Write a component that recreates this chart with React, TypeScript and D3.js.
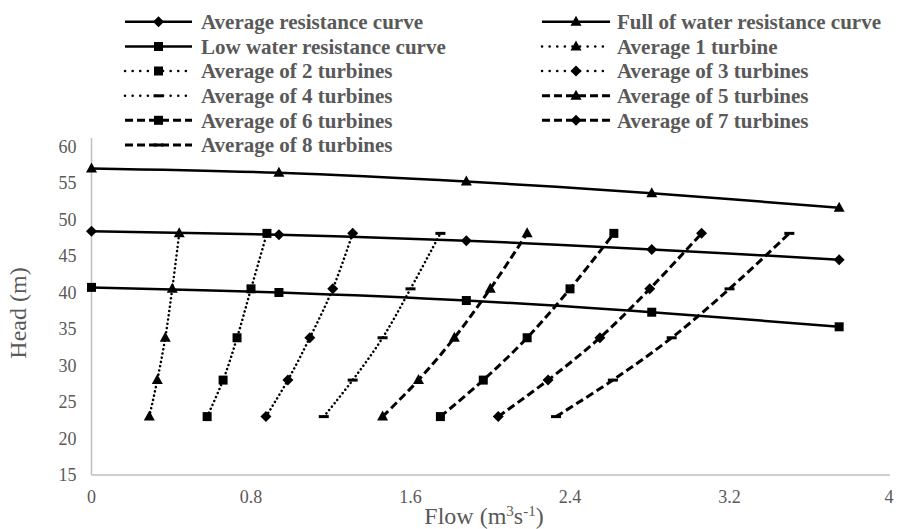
import * as d3 from "d3";

const width = 897;
const height = 529;

// flow values (m3/s) for the three resistance curves
const resistanceFlow = [0, 0.94, 1.88, 2.81, 3.75];
const avgResistance = [48.4, 47.9, 47.1, 45.9, 44.5];
const fullResistance = [57, 56.4, 55.2, 53.6, 51.6];
const lowResistance = [40.7, 40.0, 38.9, 37.3, 35.3];

// head values shared by the turbine curves
const turbineHeads = [23, 28, 33.8, 40.5, 48.1];
const turbine1 = [0.29, 0.33, 0.37, 0.405, 0.44];
const turbine2 = [0.58, 0.66, 0.73, 0.8, 0.88];
const turbine3 = [0.875, 0.985, 1.095, 1.21, 1.31];
const turbine4 = [1.165, 1.31, 1.46, 1.6, 1.75];
const turbine5 = [1.46, 1.64, 1.82, 2.0, 2.185];
const turbine6 = [1.75, 1.965, 2.185, 2.4, 2.62];
const turbine7 = [2.04, 2.29, 2.55, 2.8, 3.06];
const turbine8 = [2.33, 2.615, 2.91, 3.2, 3.5];

const xTicks = [0, 0.8, 1.6, 2.4, 3.2, 4];
const yTicks = [15, 20, 25, 30, 35, 40, 45, 50, 55, 60];

type Marker = "diamond" | "triangle" | "square" | "dash";
type Style = "solid" | "dot" | "dash";

const series: { name: string; xs: number[]; ys: number[]; marker: Marker; style: Style }[] = [
  { name: "Average resistance curve", xs: resistanceFlow, ys: avgResistance, marker: "diamond", style: "solid" },
  { name: "Full of water resistance curve", xs: resistanceFlow, ys: fullResistance, marker: "triangle", style: "solid" },
  { name: "Low water resistance curve", xs: resistanceFlow, ys: lowResistance, marker: "square", style: "solid" },
  { name: "Average 1 turbine", xs: turbine1, ys: turbineHeads, marker: "triangle", style: "dot" },
  { name: "Average of 2 turbines", xs: turbine2, ys: turbineHeads, marker: "square", style: "dot" },
  { name: "Average of 3 turbines", xs: turbine3, ys: turbineHeads, marker: "diamond", style: "dot" },
  { name: "Average of 4 turbines", xs: turbine4, ys: turbineHeads, marker: "dash", style: "dot" },
  { name: "Average of 5 turbines", xs: turbine5, ys: turbineHeads, marker: "triangle", style: "dash" },
  { name: "Average of 6 turbines", xs: turbine6, ys: turbineHeads, marker: "square", style: "dash" },
  { name: "Average of 7 turbines", xs: turbine7, ys: turbineHeads, marker: "diamond", style: "dash" },
  { name: "Average of 8 turbines", xs: turbine8, ys: turbineHeads, marker: "dash", style: "dash" },
];

const plotLeft = 91.5;
const plotRight = 889;
const plotBottom = 475;
const plotTop = 146.5;

const font = "Liberation Serif";
const gray = "#595959";

const strokeProps = (style: Style) => {
  if (style === "dot") return { strokeWidth: 2.5, strokeDasharray: "0.1 4.2", strokeLinecap: "round" as const };
  if (style === "dash") return { strokeWidth: 3, strokeDasharray: "8 4", strokeLinecap: "butt" as const };
  return { strokeWidth: 2.5, strokeDasharray: undefined, strokeLinecap: "butt" as const };
};

const MarkerShape = ({ type, x, y }: { type: Marker; x: number; y: number }) => {
  if (type === "diamond")
    return <path d={`M${x},${y - 5.5}L${x + 5.5},${y}L${x},${y + 5.5}L${x - 5.5},${y}Z`} fill="#000" />;
  if (type === "triangle")
    return <path d={`M${x},${y - 6}L${x + 5.5},${y + 4}L${x - 5.5},${y + 4}Z`} fill="#000" />;
  if (type === "square") return <rect x={x - 4.5} y={y - 4.5} width={9} height={9} fill="#000" />;
  return <rect x={x - 5} y={y - 1.5} width={10} height={3} fill="#000" />;
};

const App = () => {
  const xScale = d3.scaleLinear().domain([0, 4]).range([plotLeft, plotRight]);
  const yScale = d3.scaleLinear().domain([15, 60]).range([plotBottom, plotTop]);

  const line = d3
    .line<[number, number]>()
    .x((d) => xScale(d[0]))
    .y((d) => yScale(d[1]))
    .curve(d3.curveCatmullRom.alpha(0.5));

  // legend: two columns, rows interleaved
  const legendRows = [21.7, 46.5, 71, 95.8, 120.3, 145];
  const legendCols = [
    { lineX0: 125, lineX1: 192, textX: 201 },
    { lineX0: 542, lineX1: 610, textX: 617 },
  ];

  return (
    <div style={{ position: "absolute", left: 0, top: 0 }}>
      <svg width={width} height={height} viewBox={`0 0 ${width} ${height}`} style={{ display: "block", background: "#fff" }}>
        {/* axes */}
        <line x1={plotLeft} x2={plotLeft} y1={138} y2={plotBottom} stroke="#bfbfbf" strokeWidth={1.5} />
        <line x1={plotLeft} x2={plotRight + 1} y1={plotBottom} y2={plotBottom} stroke="#bfbfbf" strokeWidth={1.5} />
        <g fontFamily={font} fontSize={18} fill={gray}>
          {xTicks.map((t) => (
            <text key={t} x={xScale(t)} y={plotBottom + 28} textAnchor="middle">
              {t}
            </text>
          ))}
          {yTicks.map((t) => (
            <text key={t} x={plotLeft - 15} y={yScale(t)} dy="0.35em" textAnchor="end">
              {t}
            </text>
          ))}
        </g>
        <text x={484} y={524} textAnchor="middle" fontFamily={font} fontSize={24} fill={gray}>
          Flow (m
          <tspan dy={-8} fontSize={15}>3</tspan>
          <tspan dy={8}>s</tspan>
          <tspan dy={-8} fontSize={15}>-1</tspan>
          <tspan dy={8}>)</tspan>
        </text>
        <text
          transform={`translate(26,${313}) rotate(-90)`}
          textAnchor="middle"
          fontFamily={font}
          fontSize={24}
          fill={gray}
        >
          Head (m)
        </text>

        {/* series */}
        <g>
          {series.map((s) => {
            const pts = s.xs.map((x, i) => [x, s.ys[i]] as [number, number]);
            const sp = strokeProps(s.style);
            return (
              <g key={s.name}>
                <path
                  d={line(pts) ?? ""}
                  fill="none"
                  stroke="#000"
                  strokeWidth={sp.strokeWidth}
                  strokeDasharray={sp.strokeDasharray}
                  strokeLinecap={sp.strokeLinecap}
                />
                {pts.map((p, i) => (
                  <MarkerShape key={i} type={s.marker} x={xScale(p[0])} y={yScale(p[1])} />
                ))}
              </g>
            );
          })}
        </g>

        {/* legend */}
        <g>
          {series.map((s, i) => {
            const col = legendCols[i % 2];
            const y = legendRows[Math.floor(i / 2)];
            const sp = strokeProps(s.style);
            return (
              <g key={s.name}>
                <line
                  x1={col.lineX0}
                  x2={col.lineX1}
                  y1={y}
                  y2={y}
                  stroke="#000"
                  strokeWidth={sp.strokeWidth}
                  strokeDasharray={s.style === "dot" ? "0.1 7.5" : sp.strokeDasharray}
                  strokeLinecap={sp.strokeLinecap}
                />
                <MarkerShape type={s.marker} x={(col.lineX0 + col.lineX1) / 2} y={y} />
                <text
                  x={col.textX}
                  y={y}
                  dy="0.35em"
                  fontFamily={font}
                  fontWeight="bold"
                  fontSize={21}
                  fill={gray}
                >
                  {s.name}
                </text>
              </g>
            );
          })}
        </g>
      </svg>
    </div>
  );
};

export default App;
